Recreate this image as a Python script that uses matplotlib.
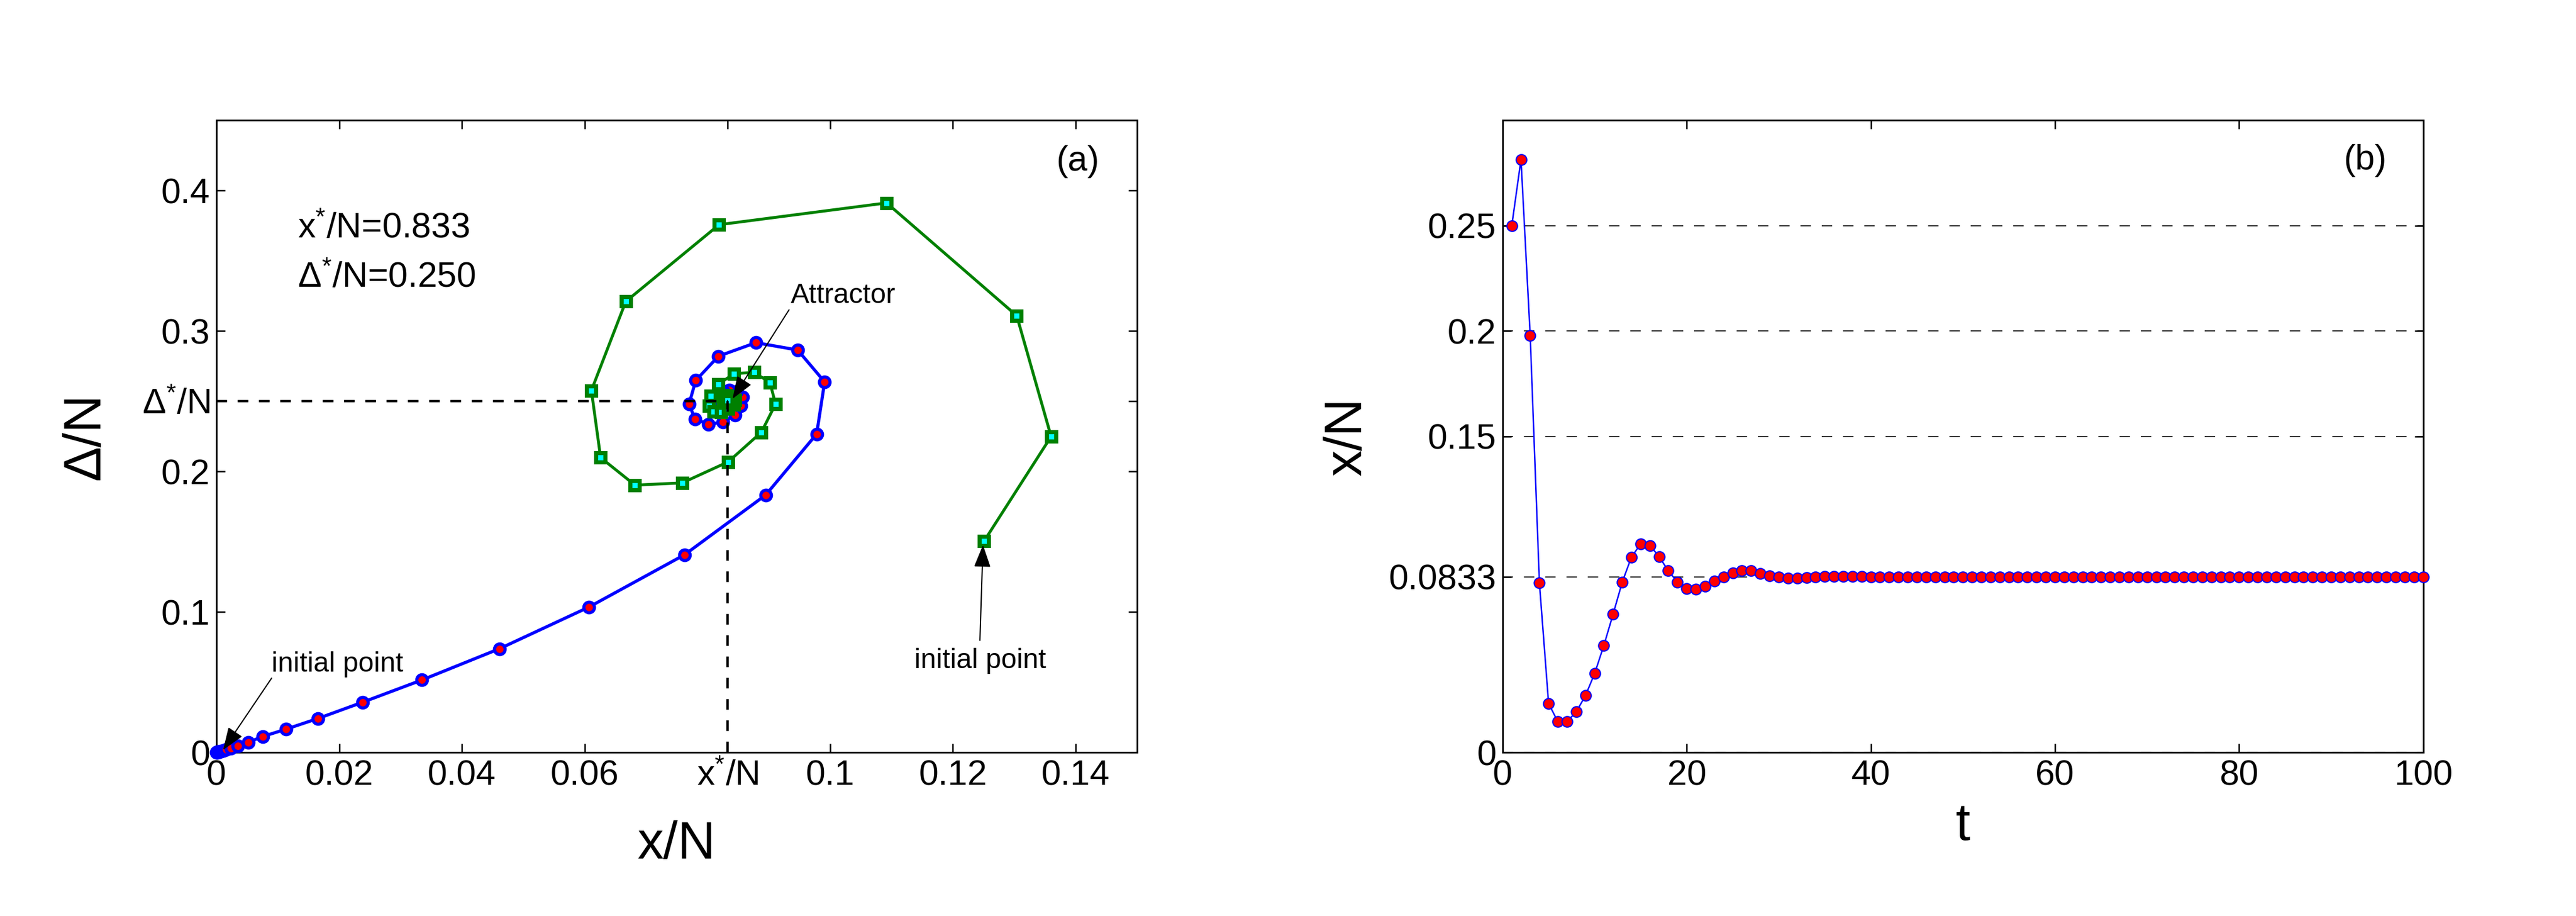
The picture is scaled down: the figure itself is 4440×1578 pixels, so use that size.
import matplotlib
matplotlib.use("Agg")
import matplotlib.pyplot as plt
import numpy as np

plt.rcParams.update({
    "font.family": ["Liberation Sans", "DejaVu Sans"],
    "mathtext.fontset": "custom",
    "mathtext.rm": "Liberation Sans",
    "mathtext.it": "Liberation Sans:italic",
    "mathtext.default": "regular",
    "axes.linewidth": 0.7,
    "xtick.direction": "in",
    "ytick.direction": "in",
    "xtick.top": True,
    "ytick.right": True,
    "xtick.major.size": 3.6,
    "ytick.major.size": 3.6,
    "xtick.major.width": 0.6,
    "ytick.major.width": 0.6,
    "xtick.labelsize": 14.6,
    "ytick.labelsize": 14.6,
})

BLUE = "#0000FF"
RED = "#FF0000"
GREEN = "#008000"
CYAN = "#00FFFF"

# (a) phase-plane trajectories
traj1_x = [0.0, 0.0001, 0.00016, 0.00024, 0.00035, 0.0005, 0.00075, 0.0011, 0.0016,
           0.0024, 0.0035, 0.0052, 0.0076, 0.0113, 0.0165, 0.0238, 0.0335, 0.0461,
           0.0607, 0.0763, 0.0895, 0.0978, 0.0991, 0.0947, 0.0879, 0.0818, 0.0781,
           0.0770, 0.0780, 0.0802, 0.0825, 0.0845, 0.0855, 0.0857, 0.0848, 0.0836,
           0.0826, 0.0820, 0.0821, 0.0826, 0.0833, 0.0840, 0.0843, 0.0842, 0.0838,
           0.0834, 0.0832, 0.0833, 0.0835]
traj1_y = [0.0, 0.0001, 0.00015, 0.00022, 0.00035, 0.0005, 0.0008, 0.0012, 0.0019,
           0.0029, 0.0044, 0.0072, 0.0113, 0.0164, 0.0240, 0.0356, 0.0515, 0.0737,
           0.1034, 0.1407, 0.1832, 0.2266, 0.2637, 0.2864, 0.2916, 0.2820, 0.2647,
           0.2478, 0.2372, 0.2335, 0.2351, 0.2400, 0.2466, 0.2531, 0.2570, 0.2580,
           0.2565, 0.2535, 0.2505, 0.2483, 0.2477, 0.2487, 0.2502, 0.2516, 0.2522,
           0.2518, 0.2510, 0.2503, 0.2502]

traj2_x = [0.1251, 0.1360, 0.1304, 0.1092, 0.0819, 0.0667, 0.0611, 0.0626, 0.0682,
           0.0759, 0.0834, 0.0888, 0.0911, 0.0902, 0.0876, 0.0843, 0.0818, 0.0805,
           0.0803, 0.0810, 0.0822, 0.0834, 0.0843, 0.0845, 0.0840, 0.0831, 0.0825,
           0.0825, 0.0829, 0.0835, 0.0838, 0.0837, 0.0834, 0.0832, 0.0833]
traj2_y = [0.1505, 0.2248, 0.3108, 0.3911, 0.3756, 0.3209, 0.2576, 0.2098, 0.1902,
           0.1918, 0.2068, 0.2279, 0.2479, 0.2632, 0.2705, 0.2695, 0.2620, 0.2537,
           0.2466, 0.2424, 0.2420, 0.2445, 0.2475, 0.2510, 0.2535, 0.2540, 0.2525,
           0.2505, 0.2492, 0.2492, 0.2502, 0.2512, 0.2514, 0.2508, 0.2503]

x_star = 0.0833
d_star = 0.25

xticks_a = [0, 0.02, 0.04, 0.06, x_star, 0.1, 0.12, 0.14]
xticklabels_a = ["0", "0.02", "0.04", "0.06", "x$^{*}$/N", "0.1", "0.12", "0.14"]
yticks_a = [0, 0.1, 0.2, d_star, 0.3, 0.4]
yticklabels_a = ["0", "0.1", "0.2", "Δ$^{*}$/N", "0.3", "0.4"]

# (b) time series x/N
t_vals = np.arange(1, 101)
xn_vals = [0.2500, 0.2813, 0.1977, 0.0804, 0.0231, 0.0146, 0.0146, 0.0192, 0.0269, 0.0374,
           0.0507, 0.0655, 0.0808, 0.0927, 0.0989, 0.0982, 0.0929, 0.0861, 0.0808, 0.0776,
           0.0774, 0.0788, 0.0813, 0.0833, 0.0852, 0.0861, 0.0861, 0.0849, 0.0838, 0.0831,
           0.0826, 0.0826, 0.0829, 0.0832, 0.0834, 0.0835, 0.0835, 0.0834, 0.0834, 0.0833,
           0.0833, 0.0833, 0.0833, 0.0833, 0.0833, 0.0833, 0.0833, 0.0833, 0.0833, 0.0833,
           0.0833, 0.0833, 0.0833, 0.0833, 0.0833, 0.0833, 0.0833, 0.0833, 0.0833, 0.0833,
           0.0833, 0.0833, 0.0833, 0.0833, 0.0833, 0.0833, 0.0833, 0.0833, 0.0833, 0.0833,
           0.0833, 0.0833, 0.0833, 0.0833, 0.0833, 0.0833, 0.0833, 0.0833, 0.0833, 0.0833,
           0.0833, 0.0833, 0.0833, 0.0833, 0.0833, 0.0833, 0.0833, 0.0833, 0.0833, 0.0833,
           0.0833, 0.0833, 0.0833, 0.0833, 0.0833, 0.0833, 0.0833, 0.0833, 0.0833, 0.0833]
yticks_b = [0, 0.0833, 0.15, 0.2, 0.25]
yticklabels_b = ["0", "0.0833", "0.15", "0.2", "0.25"]

fig = plt.figure(figsize=(14.8, 5.26), dpi=300)
ax = fig.add_axes([0.0840, 0.1787, 0.3574, 0.6901])
bx = fig.add_axes([0.5833, 0.1787, 0.3574, 0.6901])

# ---- panel (a)
ax.plot(traj1_x, traj1_y, "-o", color=BLUE, lw=1.3, ms=4.4, mew=1.3,
        mfc=RED, mec=BLUE, clip_on=False, zorder=3)
ax.plot(traj2_x, traj2_y, "-s", color=GREEN, lw=1.2, ms=3.8, mew=1.7,
        mfc=CYAN, mec=GREEN, clip_on=False, zorder=4)
ax.plot([0, x_star], [d_star, d_star], color="k", lw=1.0, dashes=(4.4, 4.4), zorder=5)
ax.plot([x_star, x_star], [0, d_star], color="k", lw=1.0, dashes=(4.4, 4.4), zorder=5)

ax.set_xlim(0, 0.15)
ax.set_ylim(0, 0.45)
ax.set_xticks(xticks_a)
ax.set_xticklabels(xticklabels_a)
ax.set_yticks(yticks_a)
ax.set_yticklabels(yticklabels_a)
ax.tick_params(axis="x", pad=3.0)
ax.tick_params(axis="y", pad=2.6)
ax.set_xlabel("x/N", fontsize=21.6)
ax.set_ylabel("Δ/N", fontsize=21.6)
ax.xaxis.set_label_coords(0.5, -0.107)
ax.yaxis.set_label_coords(-0.115, 0.5)

ax.text(0.0132, 0.366, "x$^{*}$/N=0.833", fontsize=14.6, va="baseline")
ax.text(0.0132, 0.331, "Δ$^{*}$/N=0.250", fontsize=14.6, va="baseline")
ax.text(0.1403, 0.4205, "(a)", fontsize=14.6, ha="center", va="center")

arrow = dict(arrowstyle="-|>,head_length=0.8,head_width=0.3", color="k",
             lw=0.5, mutation_scale=10, shrinkA=0, shrinkB=0)
ax.text(0.0936, 0.320, "Attractor", fontsize=11.5, va="baseline")
ax.annotate("", xy=(0.0841, 0.2517), xytext=(0.0933, 0.315), arrowprops=arrow, zorder=6)
ax.text(0.0090, 0.0575, "initial point", fontsize=11.5, va="baseline")
ax.annotate("", xy=(0.0011, 0.0017), xytext=(0.0090, 0.0528), arrowprops=arrow, zorder=6)
ax.text(0.1245, 0.0598, "initial point", fontsize=11.5, ha="center", va="baseline")
ax.annotate("", xy=(0.1249, 0.1476), xytext=(0.1244, 0.0797), arrowprops=arrow, zorder=6)

# ---- panel (b)
bx.plot(t_vals, xn_vals, "-o", color=BLUE, lw=0.6, ms=4.4, mew=0.5,
        mfc=RED, mec=BLUE, clip_on=False, zorder=3)
bx.set_xlim(0, 100)
bx.set_ylim(0, 0.3)
bx.set_xticks([0, 20, 40, 60, 80, 100])
bx.set_yticks(yticks_b)
bx.set_yticklabels(yticklabels_b)
bx.yaxis.grid(True, color="#333333", lw=0.5, linestyle=(0, (8.6, 9.0)))
bx.tick_params(axis="x", pad=3.0)
bx.tick_params(axis="y", pad=2.6)
bx.set_xlabel("t", fontsize=21.6)
bx.set_ylabel("x/N", fontsize=21.6)
bx.xaxis.set_label_coords(0.5, -0.078)
bx.yaxis.set_label_coords(-0.142, 0.5)
bx.text(93.7, 0.2808, "(b)", fontsize=14.6, ha="center", va="center")

fig.savefig("out.png", dpi=300)
